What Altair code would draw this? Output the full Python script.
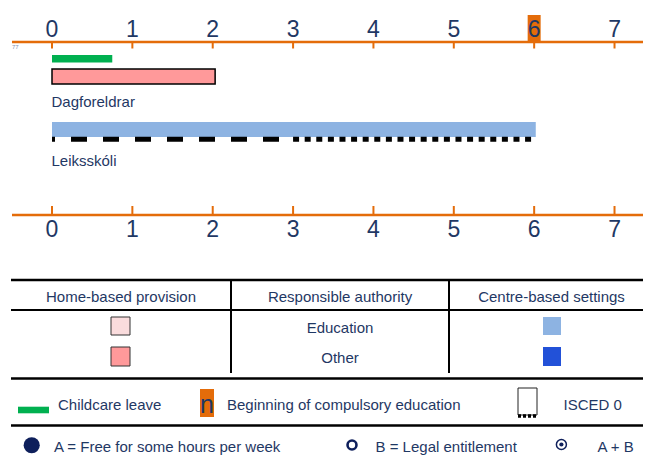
import altair as alt
import pandas as pd

# ---------------- data ----------------
AGE_TICKS = [0, 1, 2, 3, 4, 5, 6, 7]
COMPULSORY_AGE = [6]
LEAVE_START = [0.0]
LEAVE_END = [0.75]
SETTING_NAMES = ["Dagforeldrar", "Leiksskóli"]
SETTING_TYPES = ["Home-based", "Centre-based"]
SETTING_AUTHORITY = ["Other", "Education"]
SETTING_START = [0.0, 0.0]
SETTING_END = [2.03, 6.02]
ISCED_LEVELS = ["ISCED 01", "ISCED 02"]
ISCED_START = [0.0, 3.0]
ISCED_END = [3.0, 6.03]
TABLE_HEADERS = ["Home-based provision", "Responsible authority", "Centre-based settings"]
AUTHORITIES = ["Education", "Other"]
LEGEND_LABELS = ["Childcare leave", "Beginning of compulsory education", "ISCED 0"]
COMPULSORY_SYMBOL = ["n"]
FUNDING_LABELS = ["A = Free for some hours per week", "B = Legal entitlement", "A + B"]
FOOTNOTE = ["77"]

# ---------------- styles ----------------
FONT = "Liberation Sans, Arial, sans-serif"
TXT = 15
ORANGE = "#E46C0A"
NAVY = "#1F3864"
DOT_NAVY = "#0E1F5B"
GREEN = "#00B050"
PINK_LIGHT = "#FADCDD"
PINK = "#FF999A"
BLUE_LIGHT = "#8DB3E2"
BLUE = "#2251D8"

# ---------------- layout (plot pixels) ----------------
W, H = 635, 447
AGE0_PX = 44.0
PX_PER_YEAR = 80.36
AGE_DOMAIN = [-AGE0_PX / PX_PER_YEAR, (W - AGE0_PX) / PX_PER_YEAR]

AGE_SCALE = alt.Scale(domain=AGE_DOMAIN, nice=False, zero=False)
PX_SCALE = alt.Scale(domain=[0, W], nice=False, zero=False)
Y_SCALE = alt.Scale(domain=[0, H], nice=False, zero=False, reverse=True)


def XA(f):
    return alt.X(f"{f}:Q", scale=AGE_SCALE, axis=None)


def XP(f):
    return alt.X(f"{f}:Q", scale=PX_SCALE, axis=None)


def Y(f):
    return alt.Y(f"{f}:Q", scale=Y_SCALE, axis=None)


def X2(f):
    return alt.X2(f"{f}:Q")


def Y2(f):
    return alt.Y2(f"{f}:Q")


layers = []

# ---- age axes (top and bottom) ----
axis_lines = pd.DataFrame({"x": [4, 4], "x2": [W, W], "y": [34, 207]})
layers.append(alt.Chart(axis_lines).mark_rule(color=ORANGE, strokeWidth=2.5).encode(
    x=XP("x"), x2=X2("x2"), y=Y("y")))

ticks = pd.DataFrame({
    "age": AGE_TICKS * 2,
    "y": [34] * len(AGE_TICKS) + [198] * len(AGE_TICKS),
    "y2": [40.5] * len(AGE_TICKS) + [207] * len(AGE_TICKS),
})
layers.append(alt.Chart(ticks).mark_rule(color=ORANGE, strokeWidth=2).encode(
    x=XA("age"), y=Y("y"), y2=Y2("y2")))

highlight = pd.DataFrame({"age": COMPULSORY_AGE, "y": [7], "y2": [33]})
layers.append(alt.Chart(highlight).mark_rule(color=ORANGE, strokeWidth=13).encode(
    x=XA("age"), y=Y("y"), y2=Y2("y2")))

tick_labels = pd.DataFrame({
    "age": AGE_TICKS * 2,
    "label": [str(a) for a in AGE_TICKS] * 2,
    "y": [28.7] * len(AGE_TICKS) + [228.7] * len(AGE_TICKS),
})
layers.append(alt.Chart(tick_labels).mark_text(
    font=FONT, fontSize=23, color=NAVY, align="center", baseline="alphabetic").encode(
    x=XA("age"), y=Y("y"), text="label:N"))

foot = pd.DataFrame({"label": FOOTNOTE, "x": [4], "y": [40.5]})
layers.append(alt.Chart(foot).mark_text(
    font=FONT, fontSize=6, color="#7F8FB0", align="left", baseline="alphabetic").encode(
    x=XP("x"), y=Y("y"), text="label:N"))

# ---- childcare leave ----
leave = pd.DataFrame({"start": LEAVE_START, "end": LEAVE_END, "y": [47], "y2": [54.5]})
layers.append(alt.Chart(leave).mark_rect(color=GREEN).encode(
    x=XA("start"), x2=X2("end"), y=Y("y"), y2=Y2("y2")))

# ---- settings ----
ROW_LAYOUT = {"Home-based": (61, 76, 98.7), "Centre-based": (114, 129, 157.5)}
settings = pd.DataFrame({
    "name": SETTING_NAMES, "type": SETTING_TYPES, "authority": SETTING_AUTHORITY,
    "start": SETTING_START, "end": SETTING_END,
})
settings["key"] = settings["type"] + "|" + settings["authority"]
settings["y"] = settings["type"].map(lambda t: ROW_LAYOUT[t][0])
settings["y2"] = settings["type"].map(lambda t: ROW_LAYOUT[t][1])
settings["ly"] = settings["type"].map(lambda t: ROW_LAYOUT[t][2])

FILL_SCALE = alt.Scale(
    domain=["Home-based|Education", "Home-based|Other", "Centre-based|Education", "Centre-based|Other"],
    range=[PINK_LIGHT, PINK, BLUE_LIGHT, BLUE])

layers.append(alt.Chart(settings).transform_filter("datum.type == 'Home-based'").mark_rect(
    stroke="black", strokeWidth=1.5).encode(
    x=XA("start"), x2=X2("end"), y=Y("y"), y2=Y2("y2"),
    fill=alt.Fill("key:N", scale=FILL_SCALE, legend=None)))
layers.append(alt.Chart(settings).transform_filter("datum.type == 'Centre-based'").mark_rect().encode(
    x=XA("start"), x2=X2("end"), y=Y("y"), y2=Y2("y2"),
    fill=alt.Fill("key:N", scale=FILL_SCALE, legend=None)))
layers.append(alt.Chart(settings).mark_text(
    font=FONT, fontSize=TXT, color=NAVY, align="left", baseline="alphabetic", dx=-0.5).encode(
    x=XA("start"), y=Y("ly"), text="name:N"))

# ---- ISCED 0 markers ----
isced = pd.DataFrame({"level": ISCED_LEVELS, "start": ISCED_START, "end": ISCED_END, "y": [131.2, 131.2]})
layers.append(alt.Chart(isced).transform_filter("datum.level == 'ISCED 01'").mark_rule(
    color="black", strokeWidth=5, strokeDash=[16, 16], strokeDashOffset=13).encode(
    x=XA("start"), x2=X2("end"), y=Y("y")))
layers.append(alt.Chart(isced).transform_filter("datum.level == 'ISCED 02'").mark_rule(
    color="black", strokeWidth=5, strokeDash=[6, 5.6]).encode(
    x=XA("start"), x2=X2("end"), y=Y("y")))

# ---- legend table ----
table_lines = pd.DataFrame({
    "x": [3, 3, 3, 223, 441, 3],
    "x2": [W, W, W, 223, 441, W],
    "y": [272, 302, 370.5, 272, 272, 417.5],
    "y2": [272, 302, 370.5, 365, 365, 417.5],
    "w": [2.5, 2, 2.5, 2, 2, 2.5],
})
layers.append(alt.Chart(table_lines).mark_rule(color="black").encode(
    x=XP("x"), x2=X2("x2"), y=Y("y"), y2=Y2("y2"),
    strokeWidth=alt.StrokeWidth("w:Q", scale=None)))

headers = pd.DataFrame({"label": TABLE_HEADERS, "x": [113, 332, 543.5], "y": [293.7] * 3})
layers.append(alt.Chart(headers).mark_text(
    font=FONT, fontSize=TXT, color=NAVY, align="center", baseline="alphabetic").encode(
    x=XP("x"), y=Y("y"), text="label:N"))

auth = pd.DataFrame({"label": AUTHORITIES, "x": [332, 332], "y": [325, 355]})
layers.append(alt.Chart(auth).mark_text(
    font=FONT, fontSize=TXT, color=NAVY, align="center", baseline="alphabetic").encode(
    x=XP("x"), y=Y("y"), text="label:N"))

squares = pd.DataFrame({
    "type": ["Home-based", "Home-based", "Centre-based", "Centre-based"],
    "authority": AUTHORITIES * 2,
    "x": [103, 103, 535, 535], "x2": [122, 122, 553, 553],
    "y": [309, 339, 309, 339], "y2": [327, 358, 327, 358],
})
squares["key"] = squares["type"] + "|" + squares["authority"]
layers.append(alt.Chart(squares).transform_filter("datum.type == 'Home-based'").mark_rect(
    stroke="#333333", strokeWidth=1).encode(
    x=XP("x"), x2=X2("x2"), y=Y("y"), y2=Y2("y2"),
    fill=alt.Fill("key:N", scale=FILL_SCALE, legend=None)))
layers.append(alt.Chart(squares).transform_filter("datum.type == 'Centre-based'").mark_rect().encode(
    x=XP("x"), x2=X2("x2"), y=Y("y"), y2=Y2("y2"),
    fill=alt.Fill("key:N", scale=FILL_SCALE, legend=None)))

# ---- legend row ----
leg_leave = pd.DataFrame({"x": [10], "x2": [41], "y": [398.7], "y2": [405.3]})
layers.append(alt.Chart(leg_leave).mark_rect(color=GREEN).encode(
    x=XP("x"), x2=X2("x2"), y=Y("y"), y2=Y2("y2")))

leg_comp = pd.DataFrame({"x": [199], "y": [381], "y2": [409], "ty": [405], "label": COMPULSORY_SYMBOL})
layers.append(alt.Chart(leg_comp).mark_rule(color=ORANGE, strokeWidth=14).encode(
    x=XP("x"), y=Y("y"), y2=Y2("y2")))
layers.append(alt.Chart(leg_comp).mark_text(
    font=FONT, fontSize=25, color=NAVY, align="center", baseline="alphabetic").encode(
    x=XP("x"), y=Y("ty"), text="label:N"))

leg_isced = pd.DataFrame({"x": [510], "x2": [529], "y": [380], "y2": [407], "yd": [408]})
layers.append(alt.Chart(leg_isced).mark_rect(fill="white", stroke="#222222", strokeWidth=1).encode(
    x=XP("x"), x2=X2("x2"), y=Y("y"), y2=Y2("y2")))
layers.append(alt.Chart(leg_isced).mark_rule(color="black", strokeWidth=3.5, strokeDash=[3, 2]).encode(
    x=XP("x"), x2=X2("x2"), y=Y("yd")))

leg_text = pd.DataFrame({"label": LEGEND_LABELS, "x": [50, 219, 555.5], "y": [402, 402, 402]})
layers.append(alt.Chart(leg_text).mark_text(
    font=FONT, fontSize=TXT, color=NAVY, align="left", baseline="alphabetic").encode(
    x=XP("x"), y=Y("y"), text="label:N"))

# ---- funding row ----
fund_text = pd.DataFrame({"label": FUNDING_LABELS, "x": [46, 367.5, 589.5], "y": [443.5] * 3})
layers.append(alt.Chart(fund_text).mark_text(
    font=FONT, fontSize=TXT, color=NAVY, align="left", baseline="alphabetic").encode(
    x=XP("x"), y=Y("y"), text="label:N"))

sym_a = pd.DataFrame({"x": [23.7], "y": [437.3]})
layers.append(alt.Chart(sym_a).mark_point(shape="circle", filled=True, color=DOT_NAVY, size=260, opacity=1).encode(
    x=XP("x"), y=Y("y")))
sym_b = pd.DataFrame({"x": [344, 553.4], "y": [437, 436.5], "s": [80, 100], "w": [2.6, 1.5]})
layers.append(alt.Chart(sym_b).mark_point(shape="circle", filled=False, color=DOT_NAVY, opacity=1).encode(
    x=XP("x"), y=Y("y"), size=alt.Size("s:Q", scale=None),
    strokeWidth=alt.StrokeWidth("w:Q", scale=None)))
sym_ab = pd.DataFrame({"x": [553.4], "y": [436.5]})
layers.append(alt.Chart(sym_ab).mark_point(shape="circle", filled=True, color=DOT_NAVY, size=18, opacity=1).encode(
    x=XP("x"), y=Y("y")))

chart = alt.layer(*layers).resolve_scale(x="independent").properties(
    width=W, height=H, padding=0,
    autosize=alt.AutoSizeParams(type="none"),
    background="white",
).configure_view(stroke=None)

chart.save("out.html", embed_options={"renderer": "svg", "actions": False})
